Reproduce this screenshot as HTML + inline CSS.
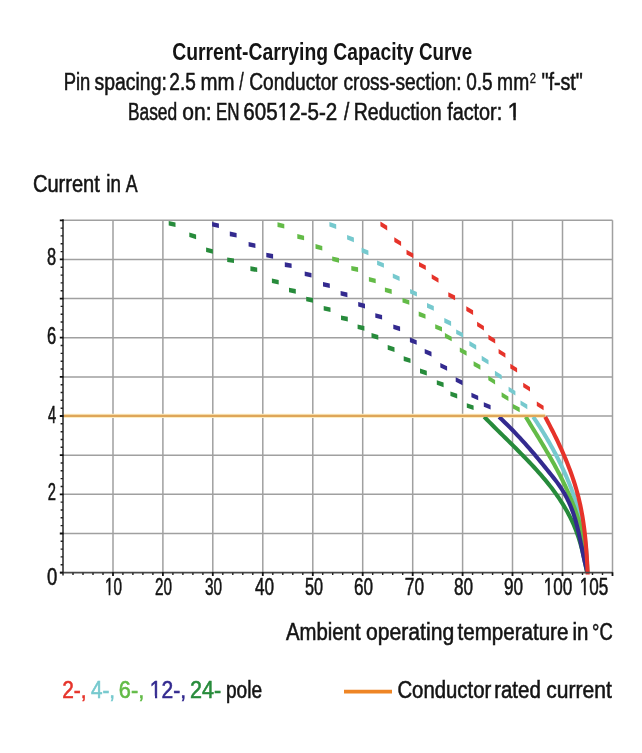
<!DOCTYPE html>
<html><head><meta charset="utf-8"><title>Current-Carrying Capacity Curve</title><style>
html,body{margin:0;padding:0;background:#fff;}
svg{display:block;will-change:transform;filter:blur(0.35px);}
text{font-family:"Liberation Sans",sans-serif;}
</style></head><body>
<svg width="642" height="753" viewBox="0 0 642 753">
<path d="M113.0 220.2V572.6 M162.9 220.2V572.6 M212.8 220.2V572.6 M262.8 220.2V572.6 M312.8 220.2V572.6 M362.7 220.2V572.6 M412.7 220.2V572.6 M462.6 220.2V572.6 M512.5 220.2V572.6 M562.5 220.2V572.6 M612.5 220.2V572.6 M63 533.5H612.5 M63 494.3H612.5 M63 455.2H612.5 M63 416.0H612.5 M63 376.9H612.5 M63 337.7H612.5 M63 298.6H612.5 M63 259.4H612.5 M63 220.3H612.5" stroke="#a0a0a0" stroke-width="1.5" fill="none"/>
<path d="M64 415.9H545.5" stroke="#fcedc2" stroke-width="4.2" fill="none"/>
<path d="M329.4 221.9 336.2 224.3 336.2 228.9 329.4 226.5ZM347.1 235.0 353.9 237.6 353.9 242.2 347.1 239.6ZM361.6 247.8 368.4 250.6 368.4 255.2 361.6 252.4ZM377.1 260.4 383.9 263.2 383.9 267.8 377.1 265.0ZM392.8 273.5 399.6 276.5 399.6 281.1 392.8 278.1ZM410.1 289.0 416.9 292.0 416.9 296.6 410.1 293.6ZM427.0 303.1 433.8 306.1 433.8 310.7 427.0 307.7ZM444.3 318.1 451.1 321.3 451.1 325.9 444.3 322.7ZM456.2 329.5 463.0 332.9 463.0 337.5 456.2 334.1ZM469.4 341.1 476.2 345.1 476.2 349.7 469.4 345.7ZM481.7 355.8 488.5 360.0 488.5 364.6 481.7 360.4ZM494.9 370.8 501.7 375.0 501.7 379.6 494.9 375.4ZM508.6 386.7 515.4 390.9 515.4 395.5 508.6 391.3ZM520.5 400.4 527.3 404.6 527.3 409.2 520.5 405.0Z" fill="#76c9ce"/>
<path d="M533.28 416.90 535.04 419.54 536.77 422.17 538.47 424.81 540.15 427.45 541.81 430.09 543.43 432.72 545.03 435.36 546.60 438.00 548.14 440.64 549.66 443.27 551.14 445.91 552.60 448.55 554.03 451.18 555.44 453.82 556.81 456.46 558.16 459.10 559.47 461.73 560.76 464.37 562.02 467.01 563.25 469.65 564.45 472.28 565.63 474.92 566.77 477.56 567.88 480.19 568.97 482.83 570.02 485.47 571.04 488.11 572.04 490.74 573.00 493.38 573.94 496.02 574.84 498.66 575.71 501.29 576.55 503.93 577.37 506.57 578.15 509.21 578.90 511.84 579.62 514.48 580.30 517.12 580.96 519.75 581.58 522.39 582.18 525.03 582.74 527.67 583.27 530.30 583.76 532.94 584.23 535.58 584.66 538.22 585.06 540.85 585.43 543.49 585.76 546.13 586.07 548.76 586.34 551.40 586.57 554.04 586.78 556.68 586.95 559.31 587.08 561.95 587.19 564.59 587.26 567.23 587.29 569.86 587.30 572.50" stroke="#76c9ce" stroke-width="4.1" fill="none" stroke-linecap="butt"/>
<path d="M277.5 222.3 284.3 223.9 284.3 228.5 277.5 226.9ZM297.3 234.1 304.1 235.7 304.1 240.3 297.3 238.7ZM315.5 244.1 322.3 245.9 322.3 250.5 315.5 248.7ZM332.2 256.5 339.0 258.1 339.0 262.7 332.2 261.1ZM351.3 265.9 358.1 267.3 358.1 271.9 351.3 270.5ZM368.9 276.9 375.7 278.7 375.7 283.3 368.9 281.5ZM384.9 287.5 391.7 289.3 391.7 293.9 384.9 292.1ZM402.5 298.0 409.3 300.2 409.3 304.8 402.5 302.6ZM418.7 311.6 425.5 314.2 425.5 318.8 418.7 316.2ZM435.2 324.2 442.0 327.0 442.0 331.6 435.2 328.8ZM444.9 333.1 451.7 336.7 451.7 341.3 444.9 337.7ZM459.8 347.5 466.6 351.1 466.6 355.7 459.8 352.1ZM473.6 361.3 480.4 365.1 480.4 369.7 473.6 365.9ZM488.3 375.7 495.1 379.9 495.1 384.5 488.3 380.3ZM501.6 392.3 508.4 396.5 508.4 401.1 501.6 396.9ZM512.9 404.0 519.7 407.6 519.7 412.2 512.9 408.6Z" fill="#63bb47"/>
<path d="M525.77 416.90 527.39 419.54 529.02 422.17 530.64 424.81 532.26 427.45 533.88 430.09 535.50 432.72 537.11 435.36 538.72 438.00 540.32 440.64 541.90 443.27 543.48 445.91 545.05 448.55 546.60 451.18 548.14 453.82 549.67 456.46 551.17 459.10 552.66 461.73 554.13 464.37 555.57 467.01 556.99 469.65 558.39 472.28 559.76 474.92 561.10 477.56 562.42 480.19 563.71 482.83 564.97 485.47 566.20 488.11 567.40 490.74 568.57 493.38 569.71 496.02 570.82 498.66 571.89 501.29 572.94 503.93 573.95 506.57 574.93 509.21 575.88 511.84 576.79 514.48 577.67 517.12 578.51 519.75 579.32 522.39 580.09 525.03 580.82 527.67 581.52 530.30 582.18 532.94 582.80 535.58 583.39 538.22 583.93 540.85 584.44 543.49 584.91 546.13 585.33 548.76 585.72 551.40 586.06 554.04 586.37 556.68 586.63 559.31 586.85 561.95 587.02 564.59 587.16 567.23 587.24 569.86 587.29 572.50" stroke="#63bb47" stroke-width="4.1" fill="none" stroke-linecap="butt"/>
<path d="M168.7 220.9 175.5 222.5 175.5 227.1 168.7 225.5ZM189.3 232.4 196.1 234.6 196.1 239.2 189.3 237.0ZM206.1 247.4 212.9 249.2 212.9 253.8 206.1 252.0ZM227.2 257.5 234.0 258.5 234.0 263.1 227.2 262.1ZM250.4 266.3 257.2 267.5 257.2 272.1 250.4 270.9ZM271.9 278.5 278.7 279.9 278.7 284.5 271.9 283.1ZM289.0 287.7 295.8 289.1 295.8 293.7 289.0 292.3ZM306.2 296.7 313.0 298.1 313.0 302.7 306.2 301.3ZM323.7 306.0 330.5 307.4 330.5 312.0 323.7 310.6ZM341.0 315.4 347.8 316.8 347.8 321.4 341.0 320.0ZM357.6 324.5 364.4 326.1 364.4 330.7 357.6 329.1ZM371.5 333.1 378.3 335.1 378.3 339.7 371.5 337.7ZM387.7 345.1 394.5 347.3 394.5 351.9 387.7 349.7ZM403.7 356.3 410.5 358.5 410.5 363.1 403.7 360.9ZM420.0 368.6 426.8 370.8 426.8 375.4 420.0 373.2ZM436.8 380.2 443.6 382.6 443.6 387.2 436.8 384.8ZM450.4 391.4 457.2 393.8 457.2 398.4 450.4 396.0ZM466.8 403.2 473.6 405.4 473.6 410.0 466.8 407.8Z" fill="#278b3b"/>
<path d="M484.19 416.90 486.80 419.54 489.43 422.17 492.07 424.81 494.73 427.45 497.39 430.09 500.07 432.72 502.74 435.36 505.42 438.00 508.09 440.64 510.75 443.27 513.40 445.91 516.04 448.55 518.66 451.18 521.27 453.82 523.84 456.46 526.39 459.10 528.91 461.73 531.40 464.37 533.85 467.01 536.26 469.65 538.62 472.28 540.94 474.92 543.21 477.56 545.42 480.19 547.58 482.83 549.68 485.47 551.72 488.11 553.70 490.74 555.61 493.38 557.47 496.02 559.27 498.66 561.00 501.29 562.67 503.93 564.28 506.57 565.83 509.21 567.32 511.84 568.74 514.48 570.10 517.12 571.40 519.75 572.63 522.39 573.80 525.03 574.90 527.67 575.94 530.30 576.93 532.94 577.86 535.58 578.74 538.22 579.57 540.85 580.35 543.49 581.10 546.13 581.80 548.76 582.47 551.40 583.11 554.04 583.73 556.68 584.31 559.31 584.88 561.95 585.42 564.59 585.95 567.23 586.47 569.86 586.99 572.50" stroke="#278b3b" stroke-width="4.1" fill="none" stroke-linecap="butt"/>
<path d="M212.1 222.0 218.9 223.4 218.9 228.0 212.1 226.6ZM229.8 231.6 236.6 233.0 236.6 237.6 229.8 236.2ZM248.6 241.9 255.4 243.5 255.4 248.1 248.6 246.5ZM266.3 252.7 273.1 254.1 273.1 258.7 266.3 257.3ZM284.8 262.3 291.6 263.5 291.6 268.1 284.8 266.9ZM304.7 271.5 311.5 272.9 311.5 277.5 304.7 276.1ZM323.0 282.0 329.8 283.4 329.8 288.0 323.0 286.6ZM340.6 291.0 347.4 292.6 347.4 297.2 340.6 295.6ZM358.2 302.0 365.0 303.8 365.0 308.4 358.2 306.6ZM375.3 313.2 382.1 315.0 382.1 319.6 375.3 317.8ZM393.3 324.4 400.1 326.6 400.1 331.2 393.3 329.0ZM409.9 337.6 416.7 340.2 416.7 344.8 409.9 342.2ZM424.7 349.0 431.5 351.8 431.5 356.4 424.7 353.6ZM440.3 363.0 447.1 366.2 447.1 370.8 440.3 367.6ZM455.7 377.2 462.5 380.6 462.5 385.2 455.7 381.8ZM471.4 392.7 478.2 395.7 478.2 400.3 471.4 397.3ZM483.8 402.2 490.6 405.0 490.6 409.6 483.8 406.8Z" fill="#332a8f"/>
<path d="M499.09 416.90 501.86 419.53 504.58 422.16 507.25 424.79 509.87 427.42 512.44 430.04 514.98 432.67 517.47 435.30 519.92 437.93 522.33 440.56 524.71 443.19 527.05 445.82 529.36 448.45 531.64 451.07 533.89 453.70 536.12 456.33 538.32 458.96 540.49 461.59 542.64 464.22 544.78 466.85 546.91 469.48 549.03 472.11 551.15 474.73 553.24 477.36 555.29 479.99 557.27 482.62 559.16 485.25 560.93 487.88 562.60 490.51 564.17 493.14 565.64 495.76 567.01 498.39 568.30 501.02 569.50 503.65 570.63 506.28 571.68 508.91 572.66 511.54 573.58 514.17 574.43 516.79 575.24 519.42 575.99 522.05 576.70 524.68 577.37 527.31 578.00 529.94 578.61 532.57 579.19 535.20 579.75 537.83 580.29 540.45 580.82 543.08 581.35 545.71 581.88 548.34 582.41 550.97 582.95 553.60 583.50 556.23 584.07 558.86 584.67 561.48 585.29 564.11 585.95 566.74 586.65 569.37 587.39 572.00" stroke="#332a8f" stroke-width="4.1" fill="none" stroke-linecap="butt"/>
<path d="M380.4 221.6 387.2 225.8 387.2 230.4 380.4 226.2ZM394.3 237.3 401.1 241.5 401.1 246.1 394.3 241.9ZM406.5 249.8 413.3 253.4 413.3 258.0 406.5 254.4ZM419.0 261.9 425.8 265.5 425.8 270.1 419.0 266.5ZM431.7 274.2 438.5 278.2 438.5 282.8 431.7 278.8ZM448.3 292.2 455.1 295.6 455.1 300.2 448.3 296.8ZM466.3 306.3 473.1 310.3 473.1 314.9 466.3 310.9ZM477.1 321.7 483.9 325.9 483.9 330.5 477.1 326.3ZM488.4 334.8 495.2 339.0 495.2 343.6 488.4 339.4ZM498.6 349.0 505.4 353.2 505.4 357.8 498.6 353.6ZM510.3 363.8 517.1 368.0 517.1 372.6 510.3 368.4ZM523.2 382.7 530.0 386.9 530.0 391.5 523.2 387.3ZM536.8 401.5 543.6 405.7 543.6 410.3 536.8 406.1Z" fill="#e6332a"/>
<path d="M545.17 416.90 546.61 419.57 548.03 422.24 549.44 424.91 550.82 427.58 552.19 430.26 553.54 432.93 554.87 435.60 556.18 438.27 557.47 440.94 558.73 443.61 559.98 446.28 561.20 448.95 562.39 451.63 563.56 454.30 564.71 456.97 565.82 459.64 566.92 462.31 567.98 464.98 569.02 467.65 570.03 470.32 571.01 472.99 571.96 475.67 572.88 478.34 573.76 481.01 574.62 483.68 575.44 486.35 576.23 489.02 576.99 491.69 577.71 494.36 578.40 497.04 579.05 499.71 579.67 502.38 580.26 505.05 580.81 507.72 581.34 510.39 581.84 513.06 582.31 515.73 582.75 518.41 583.17 521.08 583.56 523.75 583.93 526.42 584.27 529.09 584.60 531.76 584.90 534.43 585.18 537.10 585.45 539.77 585.70 542.45 585.93 545.12 586.14 547.79 586.34 550.46 586.53 553.13 586.71 555.80 586.87 558.47 587.03 561.14 587.17 563.82 587.31 566.49 587.43 569.16 587.56 571.83 587.67 574.50" stroke="#e6332a" stroke-width="4.1" fill="none" stroke-linecap="butt"/>
<path d="M64 415.9H545" stroke="#dea65a" stroke-width="2.2" fill="none"/>
<path d="M63 219.2V575.6 M60 572.7H612.5" stroke="#4a4a4a" stroke-width="1.8" fill="none"/>
<path d="M60.6 564.8H63 M60.6 556.9H63 M60.6 549.1H63 M60.6 541.3H63 M60.6 525.6H63 M60.6 517.8H63 M60.6 510.0H63 M60.6 502.1H63 M60.6 486.5H63 M60.6 478.6H63 M60.6 470.8H63 M60.6 463.0H63 M60.6 447.3H63 M60.6 439.5H63 M60.6 431.7H63 M60.6 423.8H63 M60.6 408.2H63 M60.6 400.3H63 M60.6 392.5H63 M60.6 384.7H63 M60.6 369.0H63 M60.6 361.2H63 M60.6 353.4H63 M60.6 345.5H63 M60.6 329.9H63 M60.6 322.0H63 M60.6 314.2H63 M60.6 306.4H63 M60.6 290.7H63 M60.6 282.9H63 M60.6 275.1H63 M60.6 267.2H63 M60.6 251.6H63 M60.6 243.7H63 M60.6 235.9H63 M60.6 228.1H63 M73.0 572.7V575.1 M83.0 572.7V575.1 M93.0 572.7V575.1 M103.0 572.7V575.1 M122.9 572.7V575.1 M132.9 572.7V575.1 M142.9 572.7V575.1 M152.9 572.7V575.1 M172.9 572.7V575.1 M182.9 572.7V575.1 M192.9 572.7V575.1 M202.9 572.7V575.1 M222.8 572.7V575.1 M232.8 572.7V575.1 M242.8 572.7V575.1 M252.8 572.7V575.1 M272.8 572.7V575.1 M282.8 572.7V575.1 M292.8 572.7V575.1 M302.8 572.7V575.1 M322.7 572.7V575.1 M332.7 572.7V575.1 M342.7 572.7V575.1 M352.7 572.7V575.1 M372.7 572.7V575.1 M382.7 572.7V575.1 M392.7 572.7V575.1 M402.7 572.7V575.1 M422.6 572.7V575.1 M432.6 572.7V575.1 M442.6 572.7V575.1 M452.6 572.7V575.1 M472.6 572.7V575.1 M482.6 572.7V575.1 M492.6 572.7V575.1 M502.6 572.7V575.1 M522.5 572.7V575.1 M532.5 572.7V575.1 M542.5 572.7V575.1 M552.5 572.7V575.1 M572.5 572.7V575.1 M582.5 572.7V575.1 M592.5 572.7V575.1 M602.5 572.7V575.1" stroke="#222" stroke-width="1.4" fill="none"/>
<path d="M59.8 572.6H63.5 M59.8 533.5H63.5 M59.8 494.3H63.5 M59.8 455.2H63.5 M59.8 416.0H63.5 M59.8 376.9H63.5 M59.8 337.7H63.5 M59.8 298.6H63.5 M59.8 259.4H63.5 M59.8 220.3H63.5 M113.0 572.2V576.0 M162.9 572.2V576.0 M212.8 572.2V576.0 M262.8 572.2V576.0 M312.8 572.2V576.0 M362.7 572.2V576.0 M412.7 572.2V576.0 M462.6 572.2V576.0 M512.5 572.2V576.0 M562.5 572.2V576.0 M612.5 572.2V576.0" stroke="#111" stroke-width="1.8" fill="none"/>
<text x="172.17" y="60.0" font-size="23" font-weight="bold" fill="#141414" textLength="155.92" lengthAdjust="spacingAndGlyphs">Current-Carrying</text>
<text x="333.36" y="60.0" font-size="23" font-weight="bold" fill="#141414" textLength="80.25" lengthAdjust="spacingAndGlyphs">Capacity</text>
<text x="418.97" y="60.0" font-size="23" font-weight="bold" fill="#141414" textLength="53.28" lengthAdjust="spacingAndGlyphs">Curve</text>
<text x="63.67" y="89.7" font-size="23" font-weight="normal" fill="#141414" stroke="#141414" stroke-width="0.55" textLength="26.58" lengthAdjust="spacingAndGlyphs">Pin</text>
<text x="94.62" y="89.7" font-size="23" font-weight="normal" fill="#141414" stroke="#141414" stroke-width="0.55" textLength="72.19" lengthAdjust="spacingAndGlyphs">spacing:</text>
<text x="169.37" y="89.7" font-size="23" font-weight="normal" fill="#141414" stroke="#141414" stroke-width="0.55" textLength="26.44" lengthAdjust="spacingAndGlyphs">2.5</text>
<text x="200.51" y="89.7" font-size="23" font-weight="normal" fill="#141414" stroke="#141414" stroke-width="0.55" textLength="34.08" lengthAdjust="spacingAndGlyphs">mm</text>
<text x="239.24" y="89.7" font-size="23" font-weight="normal" fill="#141414" stroke="#141414" stroke-width="0.55" textLength="4.42" lengthAdjust="spacingAndGlyphs">/</text>
<text x="249.26" y="89.7" font-size="23" font-weight="normal" fill="#141414" stroke="#141414" stroke-width="0.55" textLength="88.44" lengthAdjust="spacingAndGlyphs">Conductor</text>
<text x="343.44" y="89.7" font-size="23" font-weight="normal" fill="#141414" stroke="#141414" stroke-width="0.55" textLength="118.09" lengthAdjust="spacingAndGlyphs">cross-section:</text>
<text x="466.21" y="89.7" font-size="23" font-weight="normal" fill="#141414" stroke="#141414" stroke-width="0.55" textLength="26.44" lengthAdjust="spacingAndGlyphs">0.5</text>
<text x="497.11" y="89.7" font-size="23" font-weight="normal" fill="#141414" stroke="#141414" stroke-width="0.55" textLength="32.09" lengthAdjust="spacingAndGlyphs">mm</text>
<text x="541.42" y="89.7" font-size="23" font-weight="normal" fill="#141414" stroke="#141414" stroke-width="0.55" textLength="41.47" lengthAdjust="spacingAndGlyphs">"f-st"</text>
<text x="529.78" y="82.6" font-size="15" font-weight="normal" fill="#141414" stroke="#141414" stroke-width="0.3" textLength="6.25" lengthAdjust="spacingAndGlyphs">2</text>
<text x="127.95" y="119.5" font-size="23" font-weight="normal" fill="#141414" stroke="#141414" stroke-width="0.55" textLength="49.16" lengthAdjust="spacingAndGlyphs">Based</text>
<text x="182.36" y="119.5" font-size="23" font-weight="normal" fill="#141414" stroke="#141414" stroke-width="0.55" textLength="29.20" lengthAdjust="spacingAndGlyphs">on:</text>
<text x="216.00" y="119.5" font-size="23" font-weight="normal" fill="#141414" stroke="#141414" stroke-width="0.55" textLength="23.60" lengthAdjust="spacingAndGlyphs">EN</text>
<text x="243.37" y="119.5" font-size="23" font-weight="normal" fill="#141414" stroke="#141414" stroke-width="0.55" textLength="93.82" lengthAdjust="spacingAndGlyphs">60512-5-2</text><rect x="278.07" y="117.28" width="4.66" height="4.12" fill="#ffffff"/><rect x="284.85" y="117.28" width="4.50" height="4.12" fill="#ffffff"/>
<text x="344.00" y="119.5" font-size="23" font-weight="normal" fill="#141414" stroke="#141414" stroke-width="0.55" textLength="5.26" lengthAdjust="spacingAndGlyphs">/</text>
<text x="353.79" y="119.5" font-size="23" font-weight="normal" fill="#141414" stroke="#141414" stroke-width="0.55" textLength="87.80" lengthAdjust="spacingAndGlyphs">Reduction</text>
<text x="447.18" y="119.5" font-size="23" font-weight="normal" fill="#141414" stroke="#141414" stroke-width="0.55" textLength="55.02" lengthAdjust="spacingAndGlyphs">factor:</text>
<text x="507.49" y="119.5" font-size="23" font-weight="normal" fill="#141414" stroke="#141414" stroke-width="0.55" textLength="13.29" lengthAdjust="spacingAndGlyphs">1</text><rect x="508.11" y="117.28" width="5.24" height="4.12" fill="#ffffff"/><rect x="515.76" y="117.28" width="5.05" height="4.12" fill="#ffffff"/>
<text x="32.98" y="191.6" font-size="23" font-weight="normal" fill="#141414" stroke="#141414" stroke-width="0.55" textLength="66.87" lengthAdjust="spacingAndGlyphs">Current</text>
<text x="106.31" y="191.6" font-size="23" font-weight="normal" fill="#141414" stroke="#141414" stroke-width="0.55" textLength="14.62" lengthAdjust="spacingAndGlyphs">in</text>
<text x="125.85" y="191.6" font-size="23" font-weight="normal" fill="#141414" stroke="#141414" stroke-width="0.55" textLength="11.85" lengthAdjust="spacingAndGlyphs">A</text>
<text x="285.90" y="639.8" font-size="23" font-weight="normal" fill="#141414" stroke="#141414" stroke-width="0.55" textLength="74.65" lengthAdjust="spacingAndGlyphs">Ambient</text>
<text x="366.07" y="639.8" font-size="23" font-weight="normal" fill="#141414" stroke="#141414" stroke-width="0.55" textLength="88.13" lengthAdjust="spacingAndGlyphs">operating</text>
<text x="457.54" y="639.8" font-size="23" font-weight="normal" fill="#141414" stroke="#141414" stroke-width="0.55" textLength="110.82" lengthAdjust="spacingAndGlyphs">temperature</text>
<text x="572.45" y="639.8" font-size="23" font-weight="normal" fill="#141414" stroke="#141414" stroke-width="0.55" textLength="15.94" lengthAdjust="spacingAndGlyphs">in</text>
<text x="592.09" y="639.8" font-size="23" font-weight="normal" fill="#141414" stroke="#141414" stroke-width="0.55" textLength="20.63" lengthAdjust="spacingAndGlyphs">°C</text>
<text x="397.43" y="698" font-size="23" font-weight="normal" fill="#141414" stroke="#141414" stroke-width="0.55" textLength="93.81" lengthAdjust="spacingAndGlyphs">Conductor</text>
<text x="494.16" y="698" font-size="23" font-weight="normal" fill="#141414" stroke="#141414" stroke-width="0.55" textLength="46.63" lengthAdjust="spacingAndGlyphs">rated</text>
<text x="546.34" y="698" font-size="23" font-weight="normal" fill="#141414" stroke="#141414" stroke-width="0.55" textLength="65.49" lengthAdjust="spacingAndGlyphs">current</text>
<text x="62.18" y="698" font-size="23" font-weight="normal" fill="#e6332a" stroke="#e6332a" stroke-width="0.55" textLength="24.35" lengthAdjust="spacingAndGlyphs">2-,</text>
<text x="90.98" y="698" font-size="23" font-weight="normal" fill="#76c9ce" stroke="#76c9ce" stroke-width="0.55" textLength="24.15" lengthAdjust="spacingAndGlyphs">4-,</text>
<text x="118.79" y="698" font-size="23" font-weight="normal" fill="#63bb47" stroke="#63bb47" stroke-width="0.55" textLength="25.41" lengthAdjust="spacingAndGlyphs">6-,</text>
<text x="149.87" y="698" font-size="23" font-weight="normal" fill="#332a8f" stroke="#332a8f" stroke-width="0.55" textLength="36.26" lengthAdjust="spacingAndGlyphs">12-,</text><rect x="150.27" y="695.78" width="4.74" height="4.12" fill="#ffffff"/><rect x="157.17" y="695.78" width="4.57" height="4.12" fill="#ffffff"/>
<text x="189.93" y="698" font-size="23" font-weight="normal" fill="#278b3b" stroke="#278b3b" stroke-width="0.55" textLength="31.16" lengthAdjust="spacingAndGlyphs">24-</text>
<text x="225.98" y="698" font-size="23" font-weight="normal" fill="#141414" stroke="#141414" stroke-width="0.55" textLength="36.04" lengthAdjust="spacingAndGlyphs">pole</text>
<text x="46.94" y="265.3" font-size="23" font-weight="normal" fill="#141414" stroke="#141414" stroke-width="0.55" textLength="9.15" lengthAdjust="spacingAndGlyphs">8</text>
<text x="46.92" y="344.3" font-size="23" font-weight="normal" fill="#141414" stroke="#141414" stroke-width="0.55" textLength="9.20" lengthAdjust="spacingAndGlyphs">6</text>
<text x="48.00" y="423.1" font-size="23" font-weight="normal" fill="#141414" stroke="#141414" stroke-width="0.55" textLength="8.11" lengthAdjust="spacingAndGlyphs">4</text>
<text x="47.79" y="499.9" font-size="23" font-weight="normal" fill="#141414" stroke="#141414" stroke-width="0.55" textLength="8.19" lengthAdjust="spacingAndGlyphs">2</text>
<text x="46.89" y="584.9" font-size="23" font-weight="normal" fill="#141414" stroke="#141414" stroke-width="0.55" textLength="10.27" lengthAdjust="spacingAndGlyphs">0</text>
<text x="104.98" y="594.8" font-size="23" font-weight="normal" fill="#141414" stroke="#141414" stroke-width="0.55" textLength="17.02" lengthAdjust="spacingAndGlyphs">10</text><rect x="104.95" y="592.58" width="3.73" height="4.12" fill="#ffffff"/><rect x="110.33" y="592.58" width="3.61" height="4.12" fill="#ffffff"/>
<text x="155.02" y="594.8" font-size="23" font-weight="normal" fill="#141414" stroke="#141414" stroke-width="0.55" textLength="16.99" lengthAdjust="spacingAndGlyphs">20</text>
<text x="205.01" y="594.8" font-size="23" font-weight="normal" fill="#141414" stroke="#141414" stroke-width="0.55" textLength="17.06" lengthAdjust="spacingAndGlyphs">30</text>
<text x="254.94" y="594.8" font-size="23" font-weight="normal" fill="#141414" stroke="#141414" stroke-width="0.55" textLength="19.12" lengthAdjust="spacingAndGlyphs">40</text>
<text x="305.00" y="594.8" font-size="23" font-weight="normal" fill="#141414" stroke="#141414" stroke-width="0.55" textLength="18.04" lengthAdjust="spacingAndGlyphs">50</text>
<text x="353.94" y="594.8" font-size="23" font-weight="normal" fill="#141414" stroke="#141414" stroke-width="0.55" textLength="19.06" lengthAdjust="spacingAndGlyphs">60</text>
<text x="404.87" y="594.8" font-size="23" font-weight="normal" fill="#141414" stroke="#141414" stroke-width="0.55" textLength="19.23" lengthAdjust="spacingAndGlyphs">70</text>
<text x="453.93" y="594.8" font-size="23" font-weight="normal" fill="#141414" stroke="#141414" stroke-width="0.55" textLength="19.13" lengthAdjust="spacingAndGlyphs">80</text>
<text x="503.92" y="594.8" font-size="23" font-weight="normal" fill="#141414" stroke="#141414" stroke-width="0.55" textLength="19.08" lengthAdjust="spacingAndGlyphs">90</text>
<text x="543.68" y="594.8" font-size="23" font-weight="normal" fill="#141414" stroke="#141414" stroke-width="0.55" textLength="28.55" lengthAdjust="spacingAndGlyphs">100</text><rect x="543.78" y="592.58" width="4.05" height="4.12" fill="#ffffff"/><rect x="549.64" y="592.58" width="3.92" height="4.12" fill="#ffffff"/>
<text x="579.75" y="594.8" font-size="23" font-weight="normal" fill="#141414" stroke="#141414" stroke-width="0.55" textLength="28.55" lengthAdjust="spacingAndGlyphs">105</text><rect x="579.86" y="592.58" width="4.05" height="4.12" fill="#ffffff"/><rect x="585.72" y="592.58" width="3.92" height="4.12" fill="#ffffff"/>
<path d="M344 691.6H392" stroke="#ee8525" stroke-width="3.6" fill="none"/>
</svg>
</body></html>
